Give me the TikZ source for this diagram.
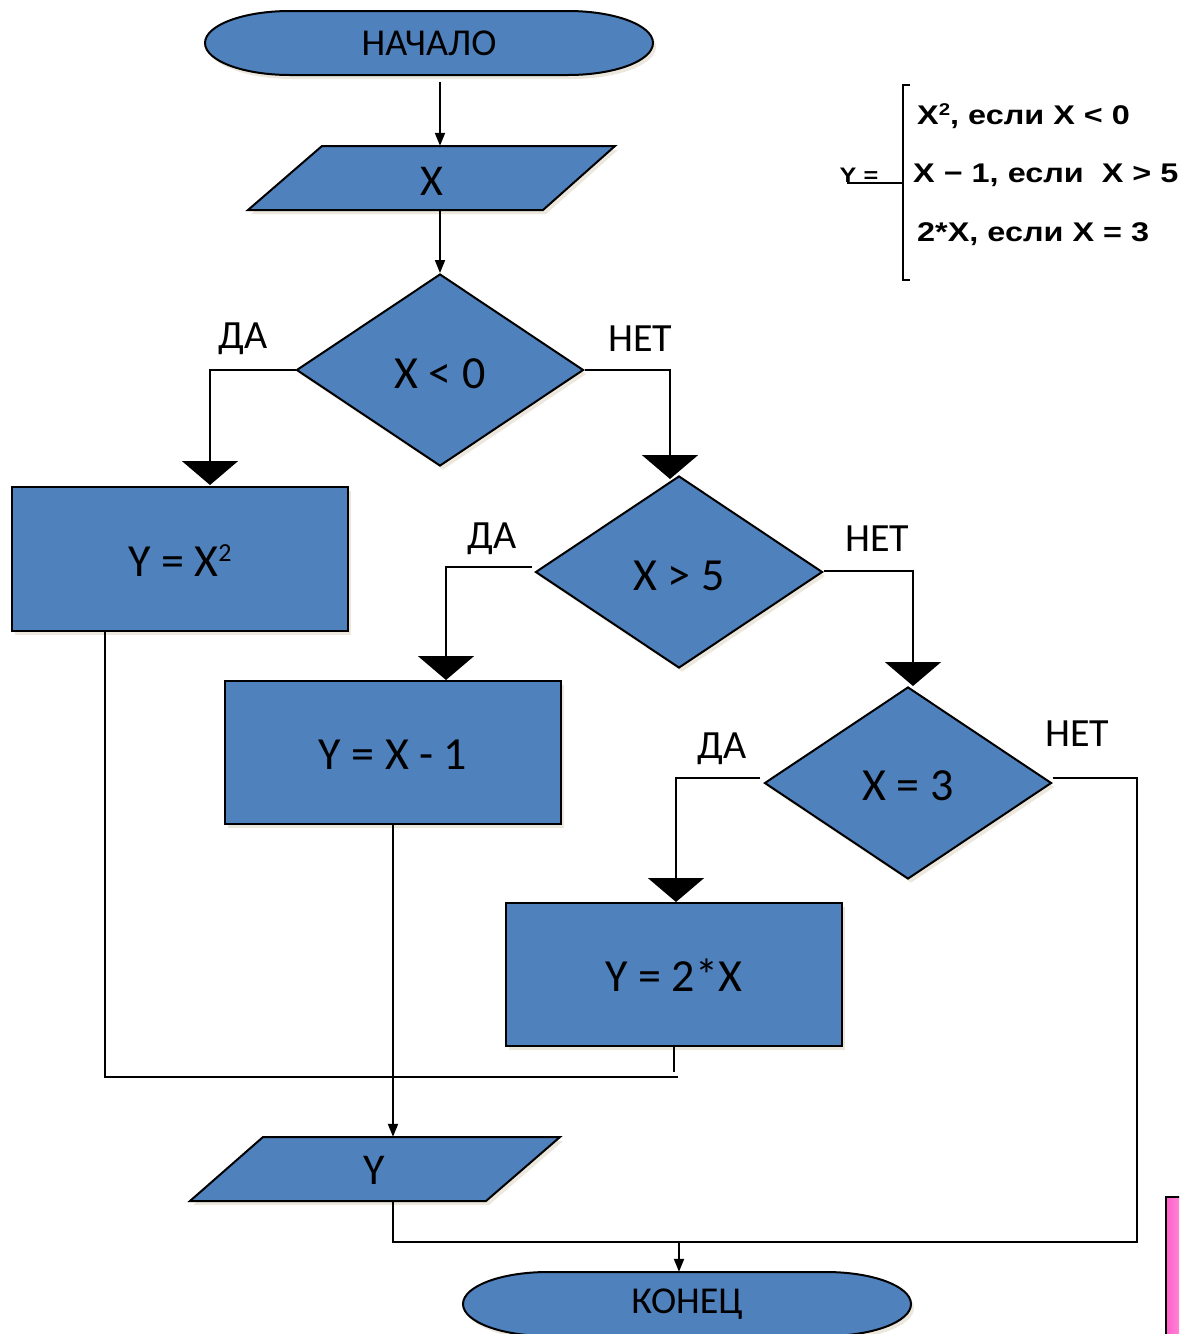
\documentclass[tikz,border=0pt]{standalone}
\usepackage{fontspec}
\setmainfont{Carlito}
\newfontfamily\formfont{Liberation Sans}
\usetikzlibrary{shapes.geometric,arrows.meta,shadows,calc}
\definecolor{fb}{RGB}{79,129,189}
\definecolor{shc}{RGB}{200,190,160}
\definecolor{pinkA}{RGB}{255,95,200}
\definecolor{pinkB}{RGB}{255,175,232}
\newcommand{\lowtext}[2]{\raisebox{-#1}[0pt][0pt]{#2}}
\begin{document}
\begin{tikzpicture}[x=1pt,y=-1pt,
  shp/.style={draw=black, line width=2pt, fill=fb, drop shadow={shadow xshift=3pt, shadow yshift=-4pt, fill=shc, opacity=0.35}},
  proc/.style={shp, rectangle, minimum width=336pt, minimum height=143pt, inner sep=0pt, font=\fontsize{46}{50}\selectfont},
  dec/.style={shp, diamond, minimum width=287pt, minimum height=192pt, inner sep=0pt, font=\fontsize{46}{50}\selectfont},
  txt/.style={inner sep=0pt, font=\fontsize{44}{48}\selectfont},
  termtxt/.style={inner sep=0pt, font=\fontsize{38}{42}\selectfont},
  lbl/.style={inner sep=0pt, font=\fontsize{40}{44}\selectfont},
  conn/.style={line width=2pt},
  arr/.style={conn, -{Triangle[width=10pt,length=13pt]}},
  big/.style={conn, -{Triangle[width=56pt,length=24pt]}},
  frm/.style={inner sep=0pt, anchor=west, font=\formfont\fontsize{27}{30}\selectfont\bfseries},
]
\clip (0,0) rectangle (1179,1334);

% terminators
\path[shp] (290,11) -- (568,11) arc[start angle=90,end angle=-90,x radius=85pt,y radius=32pt]
  -- (290,75) arc[start angle=270,end angle=90,x radius=85pt,y radius=32pt] -- cycle;
\node[termtxt, minimum width=448pt, minimum height=64pt] (start) at (429,43) {НАЧАЛО};

\path[shp] (548,1272) -- (826,1272) arc[start angle=90,end angle=-90,x radius=85pt,y radius=32pt]
  -- (548,1336) arc[start angle=270,end angle=90,x radius=85pt,y radius=32pt] -- cycle;
\node[termtxt, minimum width=448pt, minimum height=64pt] (end) at (687,1304) {КОНЕЦ};

% input / output
\path[shp] (248,210) -- (322,146) -- (615,146) -- (543,210) -- cycle;
\node[txt, minimum height=64pt] (px) at (432,178) {\lowtext{17pt}{X}};

\path[shp] (190,1201) -- (263,1137) -- (560,1137) -- (486,1201) -- cycle;
\node[txt, minimum height=64pt] (py) at (374,1169) {\lowtext{15pt}{Y}};

% decisions
\node[dec] (d1) at (440,370) {\lowtext{18pt}{X < 0}};
\node[dec] (d2) at (679,572) {\lowtext{18pt}{X > 5}};
\node[dec] (d3) at (908,783) {\lowtext{17pt}{X = 3}};

% processes
\node[proc, minimum height=144pt] (b1) at (180,559) {\lowtext{17pt}{Y = X\raisebox{15pt}{\fontsize{26}{28}\selectfont 2}}};
\node[proc] (b2) at (393,752.5) {\lowtext{17pt}{Y = X - 1}};
\node[proc] (b3) at (674,974.5) {\lowtext{17pt}{Y = 2*X}};

% connector coordinates
\coordinate (a1) at (210,485);
\coordinate (a2) at (670,479);
\coordinate (a3) at (446,680);
\coordinate (a4) at (913,686);
\coordinate (a5) at (676,902);
\coordinate (j1) at (105,1077);
\coordinate (j2) at (678,1077);
\coordinate (m1) at (1137,1242);
\coordinate (m3) at (679,1242);

% connectors
\draw[arr, shorten <=7pt] (start.south -| d1.north) -- (px.north -| d1.north);
\draw[arr] (px.south -| d1.north) -- (d1.north);
\draw[big] (d1.west) -| (a1);
\draw[big] (d1.east) -| (a2);
\draw[big] ([shift={(-3pt,5pt)}]d2.west) -| (a3);
\draw[big] ([yshift=1pt]d2.east) -| (a4);
\draw[big] ([shift={(-4pt,5pt)}]d3.west) -| (a5);
\draw[conn] ([yshift=5pt]d3.east) -| (m1) -- (m1 -| b2.south) -- (py.south -| b2.south);
\draw[arr] (m3) -- (m3 |- end.north);
\draw[conn] (j1 |- b1.south) -- (j1) -- (j2);
\draw[conn, shorten >=5pt] (b3.south) -- (b3.south |- j2);
\draw[arr] (b2.south) -- (b2.south |- py.north);

% labels
\node[lbl] (l1) at (243,339) {ДА};
\node[lbl] (l2) at (640,339) {НЕТ};
\node[lbl] (l3) at (492,539) {ДА};
\node[lbl] (l4) at (877,539) {НЕТ};
\node[lbl] (l5) at (722,749) {ДА};
\node[lbl] (l6) at (1077,734) {НЕТ};

% formula
\node[inner sep=0pt, font=\formfont\fontsize{21}{24}\selectfont\bfseries] (fy) at (859,175) {\scalebox{1.2}[1]{Y =}};
\draw[line width=1.5pt] (847,183) -- (903,183);
\draw[line width=1.5pt] (910,85) -- (903,85) -- (903,280) -- (910,280);
\node[frm] (f1) at (917,116) {\scalebox{1.2}[1]{X\raisebox{9pt}{\fontsize{17}{18}\selectfont 2}, если X < 0}};
\node[frm] (f2) at (913,175) {\scalebox{1.2}[1]{X − 1, если\ \ X > 5}};
\node[frm] (f3) at (917,234) {\scalebox{1.2}[1]{2*X, если X = 3}};

% cropped pink element
\draw[line width=2pt, left color=pinkA, right color=pinkB] (1166,1197) rectangle (1195,1345);
\end{tikzpicture}
\end{document}
